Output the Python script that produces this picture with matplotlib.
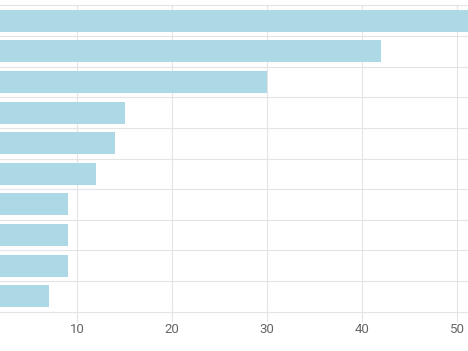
import matplotlib
matplotlib.use("Agg")
import matplotlib.pyplot as plt
import numpy as np

plt.rcParams['font.family'] = ['Roboto', 'DejaVu Sans']

# category labels are cropped out of the reference, so keep placeholders
categories = ['A', 'B', 'C', 'D', 'E', 'F', 'G', 'H', 'I', 'J']
values = [52, 42, 30, 15, 14, 12, 9, 9, 9, 7]
x_ticks = [10, 20, 30, 40, 50]

grid_color = '#e4e4e4'
bar_color = '#add8e6'

fig = plt.figure(figsize=(4.68, 3.51), dpi=100)
# plot area starts just left of the image, as in the cropped original
ax = fig.add_axes([-17.7 / 468, (351 - 311.7) / 351, (468 + 17.7) / 468, (311.7 - 5.3) / 351])

y = np.arange(len(categories))
ax.barh(y, values, height=0.72, color=bar_color, zorder=2)

ax.set_xlim(0, 468 / 9.5 + 17.7 / 9.5)
ax.set_ylim(len(categories) - 0.5, -0.5)

ax.set_xticks(x_ticks)
ax.set_xticklabels([str(t) for t in x_ticks])
ax.set_yticks(np.arange(-0.5, len(categories) + 0.5, 1))
ax.set_yticklabels([])

ax.grid(True, axis='both', color=grid_color, linewidth=0.8, zorder=0)
for gl in ax.get_xgridlines() + ax.get_ygridlines():
    gl.set_clip_on(False)
ax.tick_params(axis='x', length=7.2, width=0.8, color=grid_color, pad=1,
               labelsize=9.5, labelcolor='#666666')
ax.tick_params(axis='y', length=0)
for s in ax.spines.values():
    s.set_visible(False)

fig.savefig('out.png', dpi=100)
